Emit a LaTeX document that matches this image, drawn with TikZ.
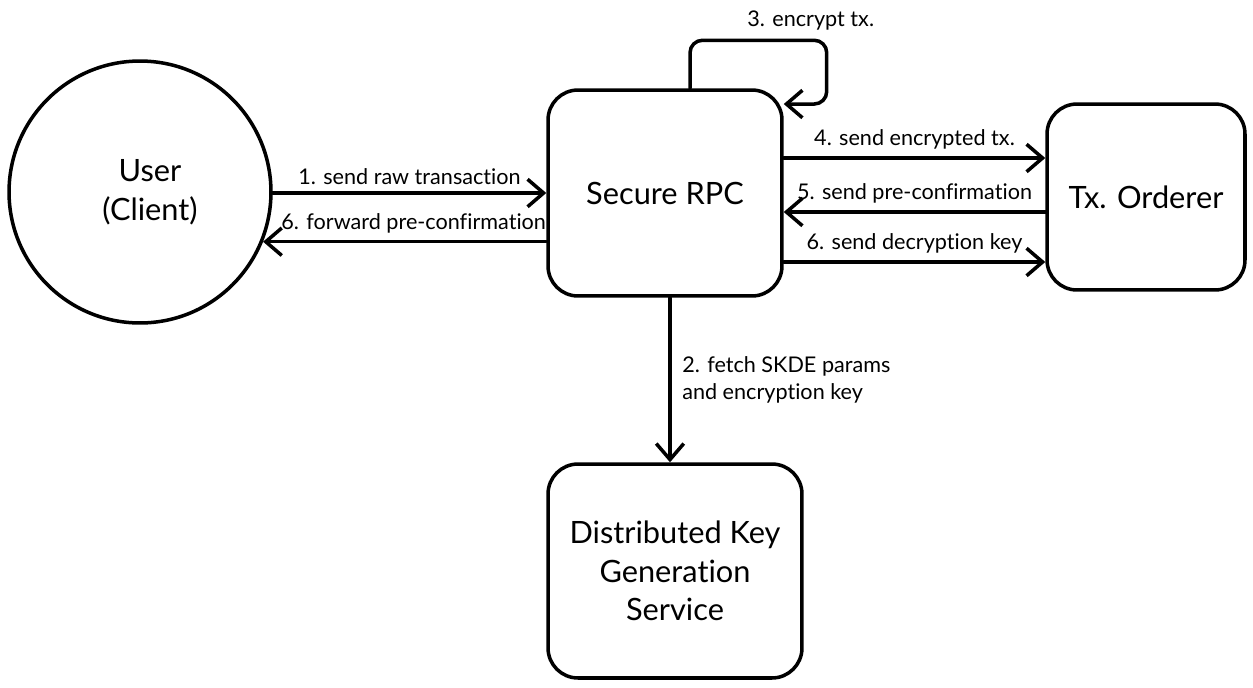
\documentclass[tikz,border=0pt]{standalone}
\usepackage{fontspec}
\setmainfont{Lato}[Ligatures={NoCommon}]
\usetikzlibrary{arrows.meta}
\begin{document}
\begin{tikzpicture}[x=0.02cm,y=-0.02cm, line width=2pt, line cap=round, line join=round,
  box/.style={draw, line width=2pt, rounded corners=0.6cm, align=center, font=\fontsize{17.5}{22}\selectfont, inner sep=0pt},
  arr/.style={line width=2pt, -{Straight Barb[length=3.2mm,width=5.5mm,line width=2pt]}},
  lbl/.style={font=\fontsize{12.3}{15}\selectfont, inner sep=2pt}]
\useasboundingbox[fill=white] (0,0) rectangle (1253,687);
\node[draw, line width=2pt, circle, minimum size=5.24cm, align=center, font=\fontsize{17.5}{22}\selectfont] (user) at (140,192) {\hspace*{0.4cm}User\\\hspace*{0.4cm}(Client)};
\node[box, minimum width=4.68cm, minimum height=4.12cm] (rpc) at (665,193) {Secure RPC};
\node[box, minimum width=3.96cm, minimum height=3.72cm] (ord) at (1146,197) {Tx. Orderer};
\node[box, minimum width=5.08cm, minimum height=4.28cm] (dkg) at (675,571) {Distributed Key\\Generation\\Service};
% 1 and 6 (left)
\draw[arr] (user.east |- rpc.west) -- (rpc.west) node[lbl, midway, above=2pt] (l1) {1. send raw transaction};
\draw[arr] (rpc.west |- user.-22) -- (user.-22) node[lbl, midway, above=2pt, xshift=0.18cm] (l6a) {6. forward pre-confirmation};
% right side
\coordinate (a4) at ([yshift=0.7cm]rpc.east);
\coordinate (a5) at ([yshift=-0.38cm]rpc.east);
\coordinate (a6) at ([yshift=-1.38cm]rpc.east);
\draw[arr] (a4) -- (a4 -| ord.west) node[lbl, midway, above=2pt] (l4) {4. send encrypted tx.};
\draw[arr] (a5 -| ord.west) -- (a5) node[lbl, midway, above=2pt] (l5) {5. send pre-confirmation};
\draw[arr] (a6) -- (a6 -| ord.west) node[lbl, midway, above=2pt] (l6b) {6. send decryption key};
% 2
\draw[arr] ([xshift=0.1cm]rpc.south) -- ([xshift=0.1cm]rpc.south |- dkg.north) node[lbl, midway, right=4pt, align=left] (l2) {2. fetch SKDE params\\and encryption key};
% 3 self loop
\coordinate (s0) at ([xshift=0.5cm]rpc.north);
\coordinate (s1) at ([yshift=0.96cm]s0);
\coordinate (s3) at ([yshift=1.78cm]rpc.east);
\coordinate (s2) at ([xshift=0.86cm]s3);
\draw[arr, rounded corners=0.25cm] (s0) -- (s1) -| (s2) -- (s3);
\node[lbl, anchor=south, xshift=-0.32cm, yshift=0.1cm] (l3) at (s2 |- s1) {3. encrypt tx.};
\end{tikzpicture}
\end{document}
